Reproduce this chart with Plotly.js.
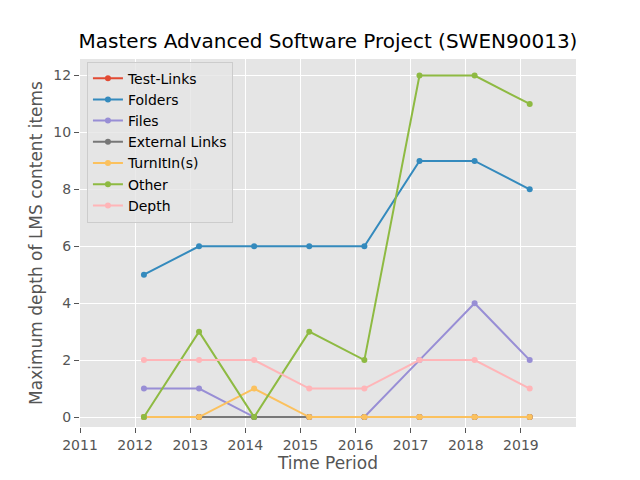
<!DOCTYPE html>
<html>
<head>
<meta charset="utf-8">
<script src="https://cdn.plot.ly/plotly-3.0.1.min.js"></script>
<style>html,body{margin:0;padding:0;background:#fff;}#chart{width:640px;height:480px;}</style>
</head>
<body>
<div id="chart"></div>
<script>
var periods = [2012.16, 2013.16, 2014.16, 2015.16, 2016.16, 2017.16, 2018.16, 2019.16];
var tickValues = [2011, 2012, 2013, 2014, 2015, 2016, 2017, 2018, 2019];
var tickLabels = ["2011", "2012", "2013", "2014", "2015", "2016", "2017", "2018", "2019"];
var seriesNames = ["Test-Links", "Folders", "Files", "External Links", "TurnItIn(s)", "Other", "Depth"];
var testLinks = [0, 0, 0, 0, 0, 0, 0, 0];
var folders = [5, 6, 6, 6, 6, 9, 9, 8];
var files = [1, 1, 0, 0, 0, 2, 4, 2];
var externalLinks = [0, 0, 0, 0, 0, 0, 0, 0];
var turnitins = [0, 0, 1, 0, 0, 0, 0, 0];
var other = [0, 3, 0, 3, 2, 12, 12, 11];
var depth = [2, 2, 2, 1, 1, 2, 2, 1];

var seriesValues = [testLinks, folders, files, externalLinks, turnitins, other, depth];
var colors = ["#E24A33", "#348ABD", "#988ED5", "#777777", "#FBC15E", "#8EBA42", "#FFB5B8"];

var traces = seriesValues.map(function (vals, i) {
  return {
    x: periods,
    y: vals,
    name: seriesNames[i],
    type: "scatter",
    mode: "lines+markers",
    line: {color: colors[i], width: 2},
    marker: {color: colors[i], size: 6}
  };
});

var layout = {
  width: 640,
  height: 480,
  paper_bgcolor: "#FFFFFF",
  plot_bgcolor: "#E5E5E5",
  margin: {l: 80, r: 64, t: 59, b: 53, pad: 0},
  font: {family: "DejaVu Sans", color: "#555555", size: 14},
  title: {
    text: "Masters Advanced Software Project (SWEN90013)",
    font: {family: "DejaVu Sans", size: 20, color: "#000000"},
    x: 0.5125, xanchor: "center", xref: "container",
    y: 0.914, yanchor: "middle", yref: "container"
  },
  xaxis: {
    range: [2011, 2020],
    tickvals: tickValues,
    ticktext: tickLabels,
    showgrid: true,
    gridcolor: "#FFFFFF",
    gridwidth: 1,
    zeroline: false,
    showline: false,
    ticks: "outside",
    ticklen: 5,
    tickwidth: 1,
    tickcolor: "#555555",
    tickfont: {size: 14, color: "#555555"},
    title: {text: "Time Period", font: {size: 17, color: "#555555"}, standoff: 5}
  },
  yaxis: {
    range: [-0.35, 12.58],
    tickvals: [0, 2, 4, 6, 8, 10, 12],
    ticktext: ["0", "2", "4", "6", "8", "10", "12"],
    showgrid: true,
    gridcolor: "#FFFFFF",
    gridwidth: 1,
    zeroline: false,
    showline: false,
    ticks: "outside",
    ticklen: 5,
    tickwidth: 1,
    tickcolor: "#555555",
    tickfont: {size: 14, color: "#555555"},
    title: {text: "Maximum depth of LMS content items", font: {size: 17, color: "#555555"}, standoff: 6}
  },
  showlegend: true,
  legend: {
    x: 0.014, y: 0.993, xanchor: "left", yanchor: "top",
    bgcolor: "rgba(229,229,229,0.8)",
    bordercolor: "#CCCCCC",
    borderwidth: 1,
    font: {size: 14, color: "#000000"},
    traceorder: "normal"
  }
};

Plotly.newPlot("chart", traces, layout, {displayModeBar: false, staticPlot: true});
</script>
</body>
</html>
